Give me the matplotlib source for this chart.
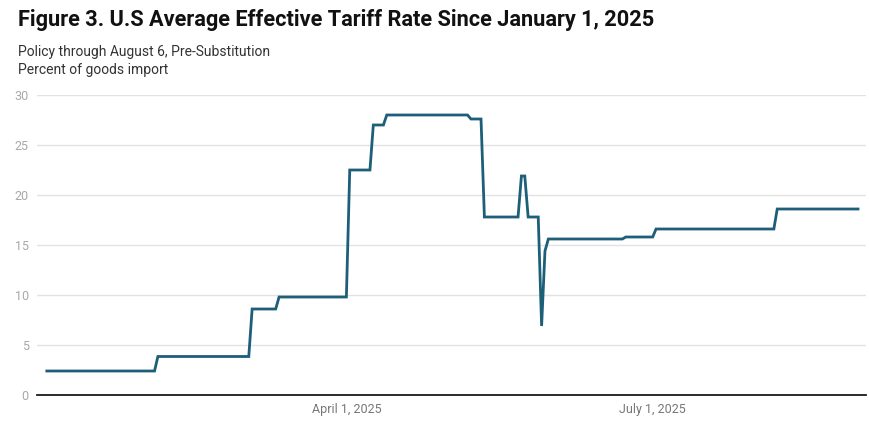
import datetime as dt
import matplotlib
matplotlib.use("Agg")
import matplotlib.pyplot as plt

# vertices of the step line
dates = ["2025-01-02", "2025-02-03", "2025-02-04", "2025-03-03", "2025-03-04",
         "2025-03-11", "2025-03-12", "2025-04-01", "2025-04-02", "2025-04-08",
         "2025-04-09", "2025-04-12", "2025-04-13", "2025-05-07", "2025-05-08",
         "2025-05-11", "2025-05-12", "2025-05-22", "2025-05-23", "2025-05-24",
         "2025-05-25", "2025-05-28", "2025-05-29", "2025-05-30", "2025-05-31",
         "2025-06-22", "2025-06-23", "2025-07-01", "2025-07-02", "2025-08-06",
         "2025-08-07", "2025-08-31"]
rate = [2.4, 2.4, 3.85, 3.85, 8.6,
        8.6, 9.8, 9.8, 22.5, 22.5,
        27.0, 27.0, 28.0, 28.0, 27.6,
        27.6, 17.8, 17.8, 21.9, 21.9,
        17.8, 17.8, 6.9, 14.4, 15.6,
        15.6, 15.8, 15.8, 16.6, 16.6,
        18.6, 18.6]
yticks = [0, 5, 10, 15, 20, 25, 30]
xtick_dates = ["2025-04-01", "2025-07-01"]
xtick_labels = ["April 1, 2025", "July 1, 2025"]

plt.rcParams['font.family'] = ['Roboto', 'DejaVu Sans']

x = [dt.datetime.strptime(d, "%Y-%m-%d") for d in dates]

fig = plt.figure(figsize=(8.69, 4.21), dpi=100)
ax = fig.add_axes([37 / 869, 26 / 421, 829 / 869, 300 / 421])

ax.plot(x, rate, color="#1d5e78", linewidth=2.0, solid_joinstyle="miter")

ax.set_xlim(dt.datetime(2024, 12, 30, 2), dt.datetime(2025, 9, 2, 9))
ax.set_ylim(0, 30)
ax.set_yticks(yticks)
ax.set_yticklabels([str(t) for t in yticks])
ax.set_xticks([dt.datetime.strptime(d, "%Y-%m-%d") for d in xtick_dates])
ax.set_xticklabels(xtick_labels)

ax.grid(axis="y", color="#e2e2e2", linewidth=1.0)
ax.set_axisbelow(True)
for s in ["top", "right", "left"]:
    ax.spines[s].set_visible(False)
ax.spines["bottom"].set_color("#1a1a1a")
ax.spines["bottom"].set_linewidth(1.3)
ax.tick_params(axis="y", length=0, pad=6, labelsize=9, labelcolor="#a8a8a8")
ax.tick_params(axis="x", length=0, pad=6, labelsize=9, labelcolor="#777777")

fig.text(18 / 869, 1 - 20 / 421, "Figure 3. U.S Average Effective Tariff Rate Since January 1, 2025",
         fontsize=15.7, fontweight="bold", color="#111111", va="center", ha="left")
fig.text(18 / 869, 1 - 52 / 421, "Policy through August 6, Pre-Substitution",
         fontsize=10, color="#333333", va="center", ha="left")
fig.text(18 / 869, 1 - 70 / 421, "Percent of goods import",
         fontsize=10, color="#333333", va="center", ha="left")

fig.savefig("out.png", dpi=100)
